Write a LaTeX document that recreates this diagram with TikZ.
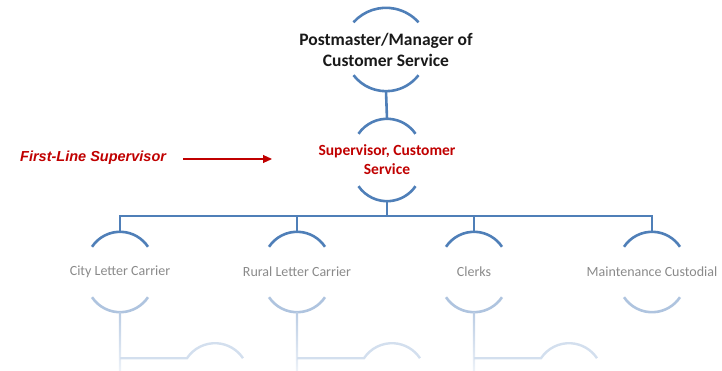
\documentclass[tikz,border=0pt]{standalone}
\usepackage{fontspec}
\setmainfont{Carlito}
\newfontfamily\arialfont{Liberation Sans}
\usetikzlibrary{calc,arrows.meta}
\definecolor{lineblue}{HTML}{4F7FB8}
\definecolor{fadeblue}{HTML}{AFC4DF}
\definecolor{paleblue}{HTML}{D3DFEE}
\definecolor{supred}{HTML}{C00000}
\definecolor{childgray}{HTML}{8A8A8A}
\tikzset{
  conn/.style={draw=lineblue, line width=2.6pt},
  fadeconn/.style={draw=paleblue, line width=2.4pt},
  topbox/.style={align=center, font=\fontsize{17.5}{21}\selectfont\bfseries, text=black!90, minimum height=83pt, inner sep=0pt},
  supbox/.style={align=center, font=\fontsize{15.5}{19}\selectfont\bfseries, text=supred, minimum height=82pt, inner sep=0pt},
  childbox/.style={align=center, font=\fontsize{14}{17}\selectfont, text=childgray, minimum height=80pt, inner sep=0pt},
}
% top arc: apex at node.north; bottom arc: apex at node.south
\newcommand\archat[4]{% node, half chord, sagitta, colour
  \pgfmathsetmacro\arcr{(#2*#2+#3*#3)/(2*#3)}
  \pgfmathsetmacro\arcth{asin(#2/\arcr)}
  \draw[draw=#4, line width=2.6pt] ($(#1.north)+(-#2,-#3)$) arc[start angle=90+\arcth, end angle=90-\arcth, radius=\arcr];
}
\newcommand\arcbowl[4]{%
  \pgfmathsetmacro\arcr{(#2*#2+#3*#3)/(2*#3)}
  \pgfmathsetmacro\arcth{asin(#2/\arcr)}
  \draw[draw=#4, line width=2.6pt] ($(#1.south)+(-#2,#3)$) arc[start angle=270-\arcth, end angle=270+\arcth, radius=\arcr];
}
\begin{document}
\begin{tikzpicture}[x=1pt,y=1pt]
\useasboundingbox (0,0) rectangle (722,-371);
% nodes
\node[topbox] (pm) at (386,-49.5) {Postmaster/Manager of\\Customer Service};
\node[supbox] (sup) at (387,-160) {Supervisor, Customer\\Service};
\node[childbox] (city) at (120,-272) {City Letter Carrier};
\node[childbox] (rural) at (297,-272) {Rural Letter Carrier};
\node[childbox] (clerks) at (474,-272) {Clerks};
\node[childbox] (maint) at (652,-272) {Maintenance Custodial};
% arcs
\archat{pm}{32.5}{14.5}{lineblue}
\arcbowl{pm}{32.5}{16}{lineblue}
\archat{sup}{28.5}{15}{lineblue}
\arcbowl{sup}{28.5}{15}{lineblue}
\foreach \n in {city,rural,clerks,maint}{
  \archat{\n}{28}{15}{lineblue}
  \arcbowl{\n}{28}{15}{fadeblue}
}
% connectors
\draw[conn] (pm.south) -- (sup.north);
\coordinate (bar) at ($(sup.south)+(0,-15)$);
\draw[conn] (sup.south) -- (bar);
\draw[conn] (city.north) |- (bar) -| (maint.north);
\draw[conn] (rural.north) -- (rural.north |- bar);
\draw[conn] (clerks.north) -- (clerks.north |- bar);
% faded lower level
\foreach \n in {city,rural,clerks}{
  \coordinate (\n-end) at ($(\n.south)+(0,-59)$);
  \coordinate (\n-j) at ($(\n.south)+(0,-46)$);
  \coordinate (\n-g) at ($(\n.south)+(67,-46)$);
  \shade[top color=fadeblue!85, bottom color=paleblue!40] ($(\n.south)+(-1.2,0)$) rectangle ($(\n-end)+(1.2,0)$);
  \draw[fadeconn] (\n-j) -- (\n-g) arc[start angle=146.4, end angle=33.6, radius=33.6];
}
% label and arrow
\node[font=\arialfont\fontsize{14.5}{17}\selectfont\bfseries\itshape, text=supred, anchor=west, inner sep=0pt] (fls) at (20,-158) {First-Line Supervisor};
\coordinate (arrend) at (272,-159);
\draw[supred, line width=1.1pt, -{Triangle[length=9pt,width=8pt]}] (183,-159) -- (arrend);
\end{tikzpicture}
\end{document}
